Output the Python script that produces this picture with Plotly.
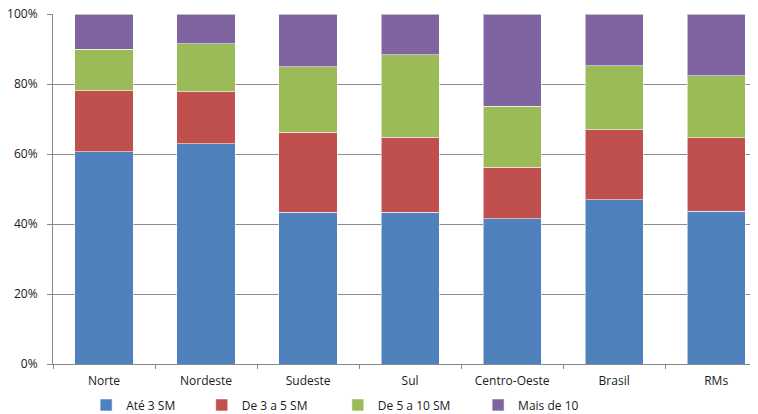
import plotly.graph_objects as go

categories = ["Norte", "Nordeste", "Sudeste", "Sul", "Centro-Oeste", "Brasil", "RMs"]
ate3 = [60.7, 62.9, 43.4, 43.4, 41.5, 46.9, 43.7]
de3a5 = [17.4, 14.9, 22.8, 21.4, 14.7, 20.1, 20.9]
de5a10 = [11.9, 13.7, 18.7, 23.6, 17.4, 18.2, 17.7]
mais10 = [10.0, 8.5, 15.1, 11.6, 26.4, 14.8, 17.7]

series_names = ["Até 3 SM", "De 3 a 5 SM", "De 5 a 10 SM", "Mais de 10"]
series_vals = [ate3, de3a5, de5a10, mais10]
colors = ["#4F81BD", "#C0504D", "#9BBB59", "#8064A2"]
legend_ids = ["legend", "legend2", "legend3", "legend4"]
legend_x = [0.047, 0.211, 0.404, 0.603]

fig = go.Figure()
for name, vals, col, lid in zip(series_names, series_vals, colors, legend_ids):
    fig.add_trace(go.Bar(
        x=categories, y=vals, name=name, legend=lid,
        marker=dict(color=col, line=dict(color="rgba(255,255,255,0.55)", width=1)),
        width=0.57,
    ))

font = "Open Sans, Liberation Sans, sans-serif"
legend_common = dict(orientation="h", xanchor="left", y=-0.117, yanchor="middle",
                     font=dict(size=12, color="#1a1a1a"), itemwidth=30,
                     bgcolor="rgba(0,0,0,0)")
# page body has an 8px margin, so the figure is sized/offset to compensate
fig.update_layout(
    barmode="stack",
    width=750, height=406,
    margin=dict(l=45, r=0, t=6, b=50, autoexpand=False),
    plot_bgcolor="white", paper_bgcolor="white",
    font=dict(family=font, size=12, color="#1a1a1a"),
    showlegend=True,
    **{lid: dict(x=lx, **legend_common) for lid, lx in zip(legend_ids, legend_x)},
    xaxis=dict(range=[-0.5, 6.41], showgrid=False, showline=True, linecolor="#888",
               linewidth=1, ticks="outside", tickson="boundaries", ticklen=4,
               tickcolor="#888", tickfont=dict(size=12, color="#1a1a1a"),
               ticklabelstandoff=6, automargin=False),
    yaxis=dict(range=[0, 100], dtick=20, ticksuffix="%", showgrid=True,
               gridcolor="#8c8c8c", gridwidth=1, showline=True, linecolor="#888",
               linewidth=1, ticks="outside", ticklen=5, tickcolor="#888",
               tickfont=dict(size=12, color="#1a1a1a"), zeroline=False,
               ticklabelstandoff=7, ticklabeloverflow="allow", automargin=False),
)
fig.write_html("out.html")
